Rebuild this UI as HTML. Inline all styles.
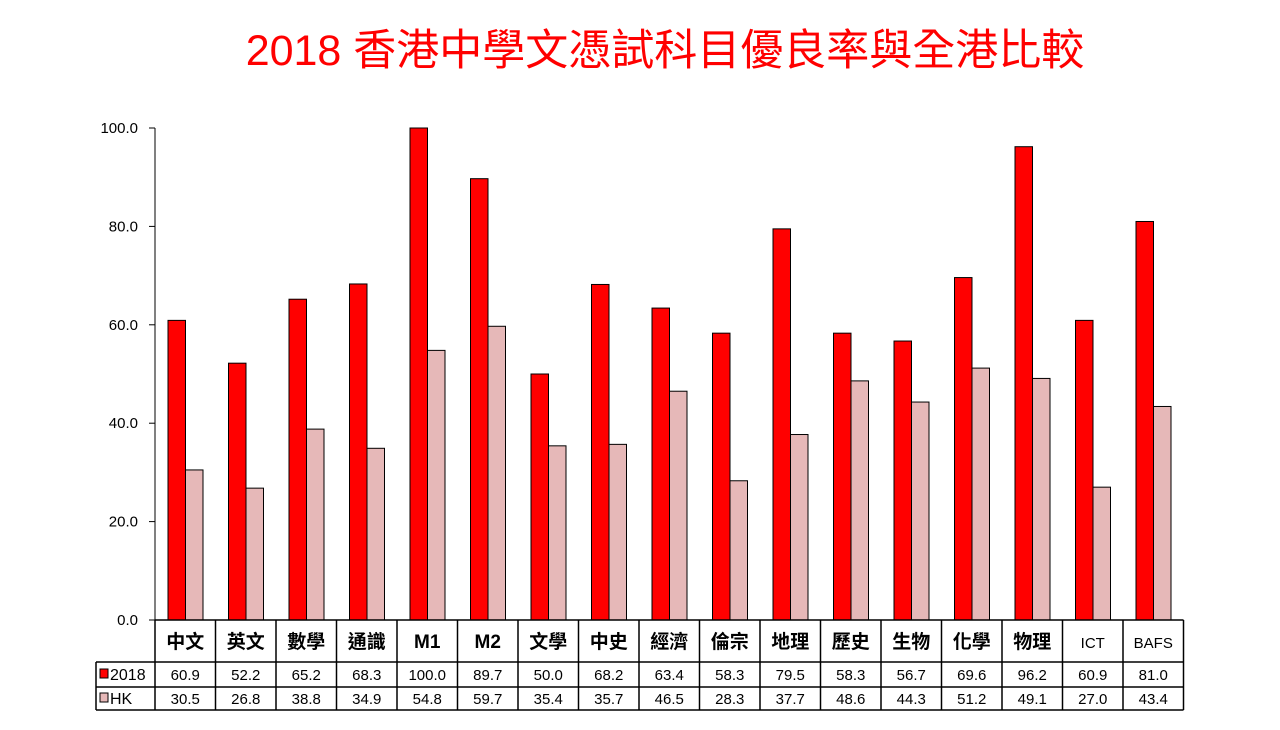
<!DOCTYPE html>
<html><head><meta charset="utf-8"><style>
body{margin:0;background:#fff;}
svg text{font-family:"Liberation Sans","Noto Sans CJK TC",sans-serif;}
</style></head><body>
<svg width="1280" height="725" id="c">
<text x="665" y="65" text-anchor="middle" font-size="43" fill="#ff0000">2018  香港中學文憑試科目優良率與全港比較</text>
</svg>
<script>
const categories=["中文","英文","數學","通識","M1","M2","文學","中史","經濟","倫宗","地理","歷史","生物","化學","物理","ICT","BAFS"];
const series2018=[60.9,52.2,65.2,68.3,100.0,89.7,50.0,68.2,63.4,58.3,79.5,58.3,56.7,69.6,96.2,60.9,81.0];
const seriesHK=[30.5,26.8,38.8,34.9,54.8,59.7,35.4,35.7,46.5,28.3,37.7,48.6,44.3,51.2,49.1,27.0,43.4];
const yTicks=[0,20,40,60,80,100];
const svg=document.getElementById('c');const NS='http://www.w3.org/2000/svg';
const x0=155,colW=60.5,y0=620,yTop=128;
const y=v=>y0-(v/100)*(y0-yTop);
const xc=i=>x0+i*colW;
function el(t,a,p){const e=document.createElementNS(NS,t);for(const k in a)e.setAttribute(k,a[k]);(p||svg).appendChild(e);return e;}
yTicks.forEach(t=>{
 const l=el('line',{x1:x0-6,x2:x0,y1:y(t),y2:y(t),stroke:'#000'});
 
 
 const tx=el('text',{x:138,y:y(t)+5,'text-anchor':'end','font-size':15,fill:'#000'});tx.textContent=t.toFixed(1);
 
 
});
const ax=el('line',{x1:x0,x2:x0,y1:yTop,y2:y0,stroke:'#000'});


categories.forEach((c,i)=>{
 const b1=el('rect',{x:xc(i)+13,y:y(series2018[i]),width:17.5,height:y0-y(series2018[i]),fill:'#ff0000',stroke:'#000','stroke-width':1});
 
 
 const b2=el('rect',{x:xc(i)+30.5,y:y(seriesHK[i]),width:17.5,height:y0-y(seriesHK[i]),fill:'#e6b8b8',stroke:'#000','stroke-width':1});
 
 
 const lat=/^[A-Z]/.test(c)&&c!=='M1'&&c!=='M2';
 const ct=el('text',{x:xc(i)+colW/2,y:648,'text-anchor':'middle','font-size':lat?15:19,fill:'#000','font-weight':lat?'normal':'bold'});ct.textContent=c;
 
 
 const v1=el('text',{x:xc(i)+colW/2,y:680,'text-anchor':'middle','font-size':15,fill:'#000'});v1.textContent=series2018[i].toFixed(1);
 
 
 const v2=el('text',{x:xc(i)+colW/2,y:704,'text-anchor':'middle','font-size':15,fill:'#000'});v2.textContent=seriesHK[i].toFixed(1);
 
 
});
const xr=x0+categories.length*colW;
const g=el('g',{stroke:'#000','stroke-width':1.5,fill:'none'});


el('line',{x1:x0,x2:xr,y1:y0,y2:y0},g);
el('line',{x1:96,x2:xr,y1:662,y2:662},g);
el('line',{x1:96,x2:xr,y1:687,y2:687},g);
el('line',{x1:96,x2:xr,y1:710,y2:710},g);
el('line',{x1:96,x2:96,y1:662,y2:710},g);
for(let i=0;i<=categories.length;i++)el('line',{x1:xc(i),x2:xc(i),y1:y0,y2:710},g);
const k1=el('rect',{x:100,y:669,width:8,height:9,fill:'#ff0000',stroke:'#000'});


const k2=el('rect',{x:100,y:693,width:8,height:9,fill:'#e6b8b8',stroke:'#000'});


const l1=el('text',{x:110,y:680,'font-size':16,fill:'#000'});l1.textContent='2018';


const l2=el('text',{x:110,y:704,'font-size':16,fill:'#000'});l2.textContent='HK';


</script>
</body></html>
